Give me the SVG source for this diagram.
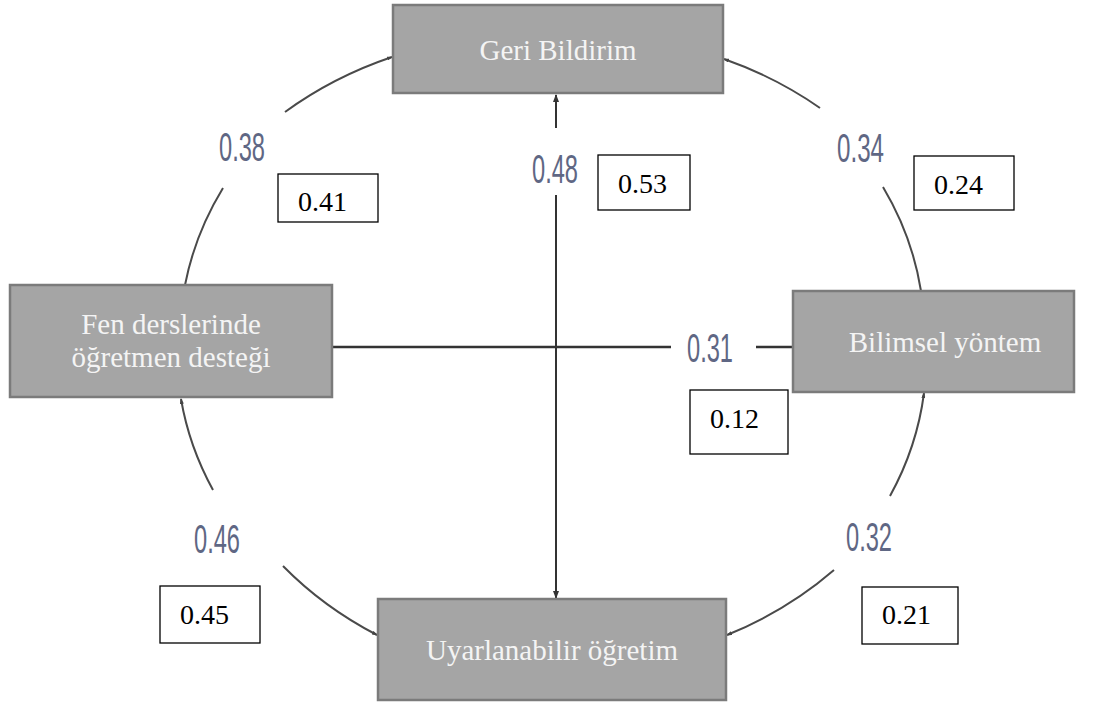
<svg xmlns="http://www.w3.org/2000/svg" width="1099" height="704" viewBox="0 0 1099 704">
<style>
.node rect{fill:#a5a5a5;stroke:#7b7b7b;stroke-width:2.5}
.node text{font-family:"Liberation Serif","Times New Roman",serif;font-size:29px;fill:#f4f4f4;text-anchor:middle}
.arc{fill:none;stroke:#4a4a4a;stroke-width:2}
.ln{fill:none;stroke:#333;stroke-width:2}
.ln2{fill:none;stroke:#333;stroke-width:2.5}
.coef{font-family:"Liberation Sans",Arial,sans-serif;font-size:40px;fill:#5f6784}
.val rect{fill:#fff;stroke:#000;stroke-width:1.3}
.val text{font-family:"Liberation Serif","Times New Roman",serif;font-size:28px;fill:#000}
</style>
<defs>
<marker id="ah" markerWidth="8" markerHeight="6" refX="7" refY="3" orient="auto" markerUnits="userSpaceOnUse">
<path d="M0,0 L8,3 L0,6 z" fill="#333"/>
</marker>
<marker id="ahs" markerWidth="6" markerHeight="4" refX="5" refY="2" orient="auto" markerUnits="userSpaceOnUse">
<path d="M0,0 L6,2 L0,4 z" fill="#444"/>
</marker>
</defs>
<rect width="1099" height="704" fill="#fff"/>
<g id="connectors">
<path class="arc" d="M285,112 A380,325 0 0,1 392,57" marker-end="url(#ahs)"/>
<path class="arc" d="M223,188 A380,325 0 0,0 185,285"/>
<path class="arc" d="M213,490 A380,325 0 0,1 181,399" marker-end="url(#ahs)"/>
<path class="arc" d="M283,566 A380,325 0 0,0 377,635" marker-end="url(#ahs)"/>
<path class="arc" d="M834,570 A380,325 0 0,1 727,635" marker-end="url(#ahs)"/>
<path class="arc" d="M890,496 A380,325 0 0,0 924,393" marker-end="url(#ahs)"/>
<path class="arc" d="M883,187 A380,325 0 0,1 921,291"/>
<path class="arc" d="M820,108 A380,325 0 0,0 724,59" marker-end="url(#ahs)"/>
<path class="ln" d="M556,128 L556,95" marker-end="url(#ah)"/>
<path class="ln" d="M556,195 L556,598" marker-end="url(#ah)"/>
<path class="ln2" d="M333,347 L671,347"/>
<path class="ln2" d="M756,347 L793,347"/>
</g>
<g id="coefficients">
<text class="coef" x="219" y="161" textLength="46" lengthAdjust="spacingAndGlyphs">0.38</text>
<text class="coef" x="532" y="183" textLength="46" lengthAdjust="spacingAndGlyphs">0.48</text>
<text class="coef" x="837" y="162" textLength="47" lengthAdjust="spacingAndGlyphs">0.34</text>
<text class="coef" x="687" y="362" textLength="46" lengthAdjust="spacingAndGlyphs">0.31</text>
<text class="coef" x="194" y="553" textLength="46" lengthAdjust="spacingAndGlyphs">0.46</text>
<text class="coef" x="846" y="551" textLength="46" lengthAdjust="spacingAndGlyphs">0.32</text>
</g>
<g id="node-geri" class="node">
<rect x="393" y="5" width="330" height="88"/>
<text x="558" y="60">Geri Bildirim</text>
</g>
<g id="node-fen" class="node">
<rect x="10" y="285" width="322" height="112"/>
<text x="171" y="334">Fen derslerinde</text>
<text x="171" y="367">öğretmen desteği</text>
</g>
<g id="node-bilimsel" class="node">
<rect x="793" y="291" width="281" height="101"/>
<text x="945" y="352">Bilimsel yöntem</text>
</g>
<g id="node-uyar" class="node">
<rect x="378" y="599" width="348" height="101"/>
<text x="552" y="660">Uyarlanabilir öğretim</text>
</g>
<g id="val-041" class="val"><rect x="278" y="174" width="100" height="48"/><text x="298" y="211">0.41</text></g>
<g id="val-053" class="val"><rect x="598" y="155" width="92" height="55"/><text x="618" y="193">0.53</text></g>
<g id="val-024" class="val"><rect x="914" y="156" width="100" height="54"/><text x="934" y="194">0.24</text></g>
<g id="val-012" class="val"><rect x="690" y="390" width="98" height="64"/><text x="710" y="428">0.12</text></g>
<g id="val-045" class="val"><rect x="160" y="586" width="100" height="57"/><text x="180" y="624">0.45</text></g>
<g id="val-021" class="val"><rect x="862" y="587" width="96" height="57"/><text x="882" y="624">0.21</text></g>
</svg>
